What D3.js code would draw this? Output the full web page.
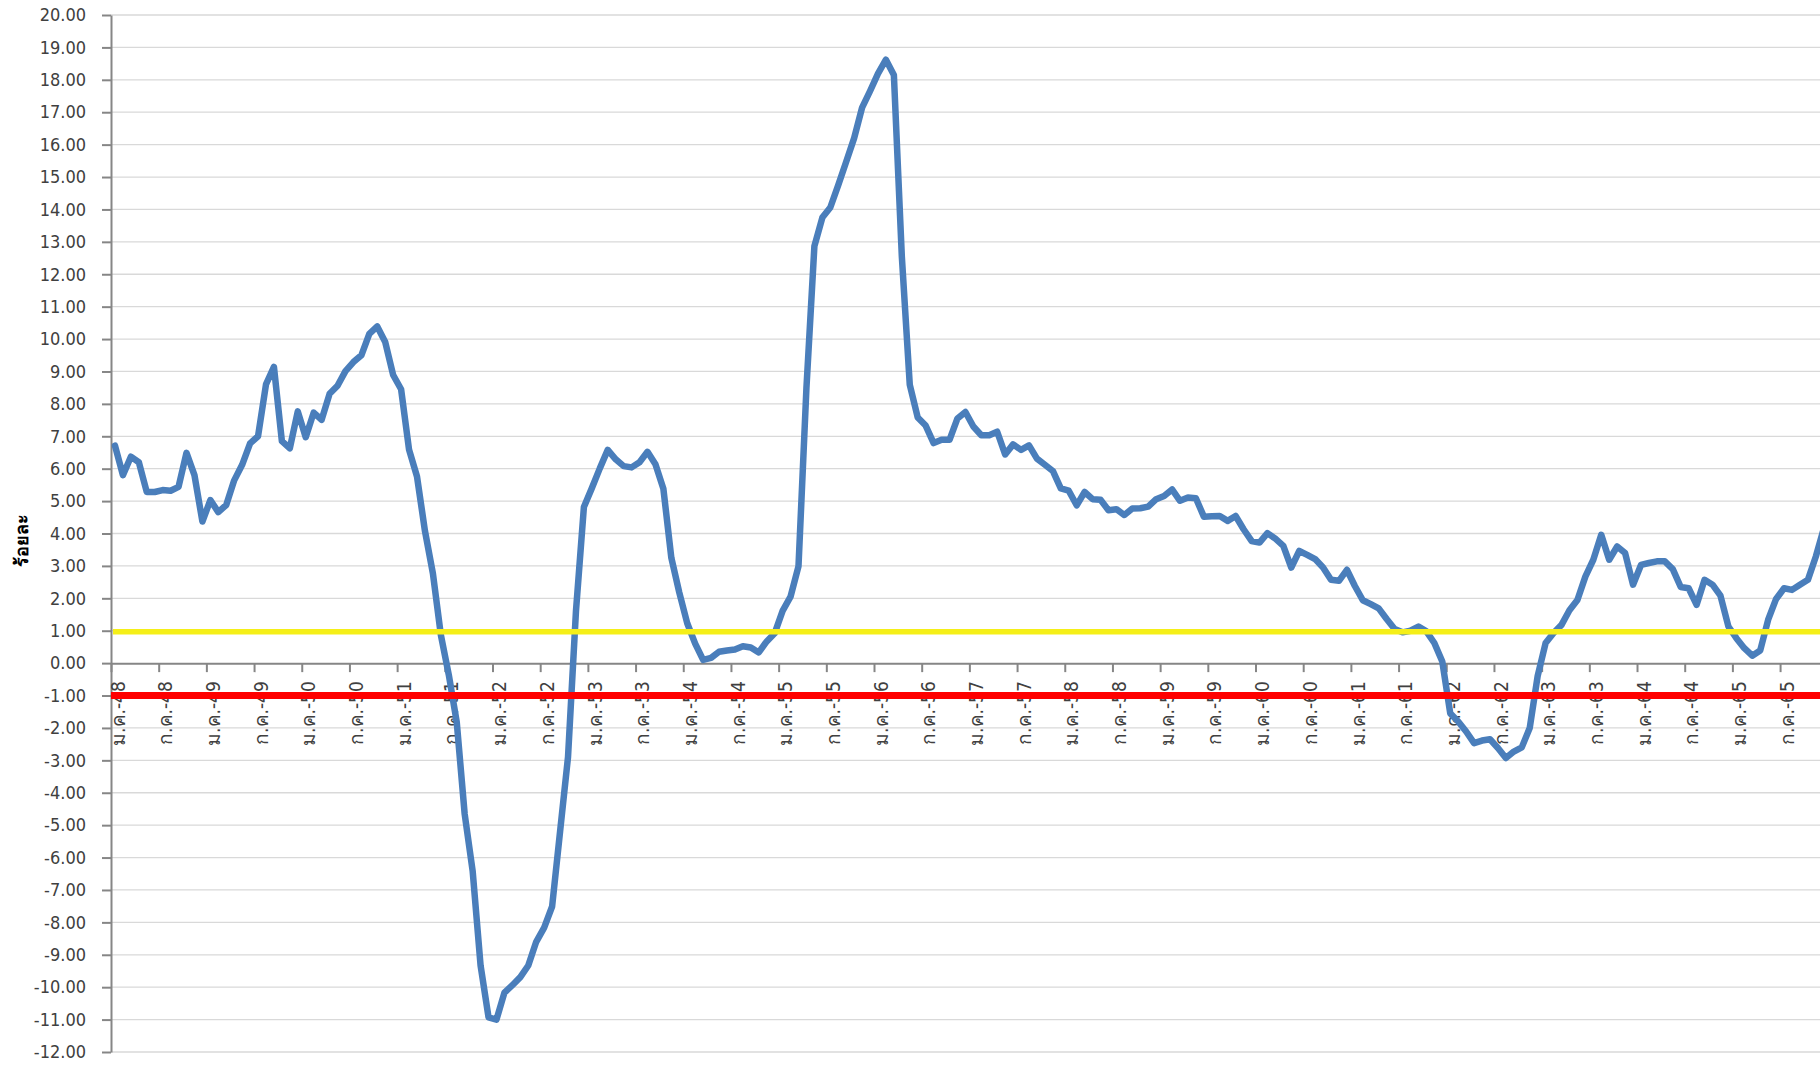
<!DOCTYPE html>
<html>
<head>
<meta charset="utf-8">
<script src="https://cdn.jsdelivr.net/npm/d3@7"></script>
<style>
  body { margin: 0; background: #fff; overflow: hidden; }
  text { font-family: "DejaVu Sans Condensed", "DejaVu Sans", sans-serif; }
</style>
</head>
<body>
<div id="chart"></div>
<script>
// month names and (Thai) years used for the category axis
var thMonths = ["ม.ค.", "ก.พ.", "มี.ค.", "เม.ย.", "พ.ค.", "มิ.ย.",
                "ก.ค.", "ส.ค.", "ก.ย.", "ต.ค.", "พ.ย.", "ธ.ค."];
var years = [48, 49, 50, 51, 52, 53, 54, 55, 56, 57, 58, 59, 60, 61, 62, 63, 64, 65];

// monthly values, ม.ค.-48 .. ธ.ค.-65
var values = [
  6.71, 5.80, 6.37, 6.20, 5.28, 5.28, 5.34, 5.32, 5.44, 6.49, 5.80, 4.37,
  5.03, 4.66, 4.88, 5.64, 6.12, 6.78, 7.00, 8.60, 9.14, 6.85, 6.63, 7.77,
  6.97, 7.73, 7.51, 8.31, 8.56, 9.01, 9.29, 9.50, 10.16, 10.39, 9.91, 8.89,
  8.45, 6.59, 5.76, 4.08, 2.77, 0.87, -0.36, -1.82, -4.66, -6.41, -9.33, -10.93,
  -11.00, -10.17, -9.94, -9.69, -9.33, -8.60, -8.16, -7.51, -5.20, -2.90, 1.60, 4.82,
  5.40, 6.01, 6.58, 6.29, 6.08, 6.04, 6.20, 6.52, 6.14, 5.38, 3.25, 2.18,
  1.23, 0.60, 0.10, 0.16, 0.35, 0.39, 0.42, 0.52, 0.48, 0.33, 0.67, 0.92,
  1.61, 2.05, 2.99, 8.50, 12.87, 13.75, 14.06, 14.75, 15.47, 16.20, 17.14, 17.65,
  18.19, 18.62, 18.15, 12.55, 8.59, 7.58, 7.33, 6.79, 6.89, 6.89, 7.55, 7.75,
  7.30, 7.03, 7.03, 7.14, 6.44, 6.75, 6.58, 6.72, 6.31, 6.12, 5.93, 5.39,
  5.32, 4.87, 5.28, 5.06, 5.04, 4.72, 4.75, 4.57, 4.77, 4.78, 4.83, 5.06,
  5.16, 5.36, 5.01, 5.11, 5.09, 4.52, 4.53, 4.54, 4.39, 4.54, 4.13, 3.77,
  3.72, 4.01, 3.84, 3.62, 2.95, 3.46, 3.34, 3.21, 2.95, 2.57, 2.54, 2.88,
  2.38, 1.94, 1.82, 1.69, 1.36, 1.05, 0.95, 1.00, 1.13, 0.98, 0.62, 0.05,
  -1.55, -1.80, -2.11, -2.47, -2.39, -2.35, -2.62, -2.93, -2.73, -2.60, -2.00, -0.40,
  0.62, 0.93, 1.18, 1.63, 1.95, 2.67, 3.19, 3.96, 3.19, 3.60, 3.40, 2.42,
  3.03, 3.09, 3.14, 3.14, 2.90, 2.35, 2.31, 1.80, 2.57, 2.42, 2.08, 1.13,
  0.77, 0.46, 0.23, 0.39, 1.34, 1.98, 2.31, 2.26, 2.42, 2.57, 3.29, 4.15
];

var yTicks = d3.range(-12, 21, 1);
var upperLine = 1.0;
var lowerLine = -1.0;
var yTitle = "ร้อยละ";

var categories = [];
years.forEach(function(yr){
  thMonths.forEach(function(m){ categories.push(m + "-" + yr); });
});

var W = 1820, H = 1065;
var plotLeft = 111, plotTop = 15, plotBottom = 1052, step = 7.948;

var svg = d3.select("#chart").append("svg")
  .attr("width", W).attr("height", H);

var x = d3.scaleBand().domain(categories)
  .range([plotLeft, plotLeft + categories.length * step]).padding(0);
var xi = d3.scaleLinear().domain([0, categories.length]).range(x.range());
var y = d3.scaleLinear().domain([-12, 20]).range([plotBottom, plotTop]);

// gridlines
svg.append("g").selectAll("line")
  .data(yTicks.filter(function(d){ return d !== 0; }))
  .join("line")
  .attr("x1", plotLeft).attr("x2", W)
  .attr("y1", function(d){ return y(d); })
  .attr("y2", function(d){ return y(d); })
  .attr("stroke", "#d9d9d9").attr("stroke-width", 1.3);

// y axis
var gy = svg.append("g").attr("transform", "translate(" + plotLeft + ",0)")
  .call(d3.axisLeft(y).tickValues(yTicks)
    .tickFormat(function(d){ return d.toFixed(2); })
    .tickSize(9).tickPadding(16).tickSizeOuter(0));
gy.attr("font-family", null);
gy.select(".domain").attr("stroke", "#868686").attr("stroke-width", 2);
gy.selectAll(".tick line").attr("stroke", "#868686").attr("stroke-width", 2);
gy.selectAll(".tick text").attr("fill", "#404040").style("font-size", "18px");

// x axis ticks, every 6 months, at the category boundaries
var gx = svg.append("g").attr("transform", "translate(0," + y(0) + ")")
  .call(d3.axisBottom(xi).tickValues(d3.range(0, categories.length + 1, 6))
    .tickFormat("").tickSize(9).tickSizeOuter(0));
gx.select(".domain").attr("stroke", "#868686").attr("stroke-width", 2);
gx.selectAll(".tick line").attr("stroke", "#868686").attr("stroke-width", 2);

// x labels
svg.append("g").selectAll("text")
  .data(categories.filter(function(c, i){ return i % 6 === 0; }))
  .join("text")
  .attr("transform", function(c){
    return "translate(" + (x(c) + x.bandwidth() / 2 + 3) + "," + (y(0) + 18) + ") rotate(-90)";
  })
  .attr("text-anchor", "end").attr("dy", "0.35em")
  .attr("fill", "#404040").style("font-size", "19px")
  .text(function(c){ return c; });

// y title
svg.append("text")
  .attr("transform", "translate(22,540) rotate(-90)")
  .attr("text-anchor", "middle").attr("dy", "0.35em")
  .attr("fill", "#000").style("font-size", "18px").style("font-weight", "bold")
  .text(yTitle);

// series
var line = d3.line()
  .x(function(d, i){ return x(categories[i]) + x.bandwidth() / 2; })
  .y(function(d){ return y(d); });

svg.append("path").datum(values)
  .attr("d", line)
  .attr("fill", "none").attr("stroke", "#4a7ebb")
  .attr("stroke-width", 6.5)
  .attr("stroke-linejoin", "round").attr("stroke-linecap", "round");

// reference lines
svg.append("line")
  .attr("x1", plotLeft + 2).attr("x2", W)
  .attr("y1", y(upperLine) + 1).attr("y2", y(upperLine) + 1)
  .attr("stroke", "#f5ef18").attr("stroke-width", 5.5);
svg.append("line")
  .attr("x1", plotLeft).attr("x2", W)
  .attr("y1", y(lowerLine)).attr("y2", y(lowerLine))
  .attr("stroke", "#ff0000").attr("stroke-width", 7);
</script>
</body>
</html>
